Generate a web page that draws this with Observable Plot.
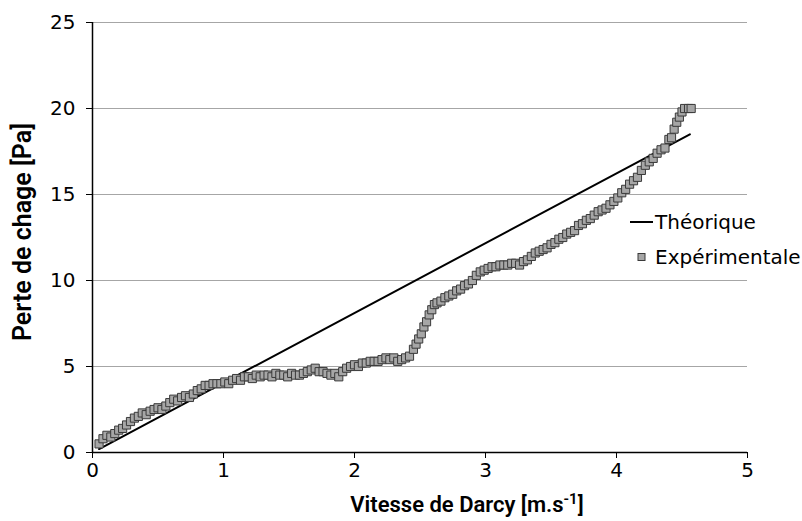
<!DOCTYPE html>
<html><head><meta charset="utf-8">
<script src="https://cdn.jsdelivr.net/npm/d3@7"></script>
<script src="https://cdn.jsdelivr.net/npm/@observablehq/plot@0.6"></script>
<style>body{margin:0;background:#fff;} #chart{position:relative;width:802px;height:521px;}</style>
</head><body><div id="chart"></div>
<script>
const xTicks = [0, 1, 2, 3, 4, 5];
const yTicks = [0, 5, 10, 15, 20, 25];
const seriesNames = ["Théorique", "Expérimentale"];
const theoX = [0.05, 4.56];
const theoY = [0.2, 18.5];
const expX = [0.05,0.08,0.11,0.14,0.17,0.2,0.23,0.26,0.29,0.32,0.35,0.38,0.41,0.44,0.47,0.5,0.53,0.56,0.59,0.62,0.65,0.68,0.71,0.74,0.77,0.8,0.83,0.86,0.89,0.92,0.95,0.98,
 1.01,1.04,1.07,1.1,1.13,1.16,1.19,1.22,1.25,1.28,1.31,1.34,1.37,1.4,1.43,1.46,1.49,1.52,1.55,1.58,1.61,1.64,1.67,1.7,1.73,1.76,1.79,1.82,1.85,1.88,1.91,1.94,1.97,2.0,2.03,2.06,2.09,2.12,2.15,2.18,2.21,2.24,2.27,2.3,2.33,2.36,2.39,2.42,
 2.45,2.47,2.49,2.51,2.53,2.55,2.57,2.59,2.61,2.63,2.66,2.69,2.72,2.75,2.78,2.81,2.84,2.87,2.9,2.93,2.96,2.99,3.02,3.05,3.08,
 3.11,3.14,3.17,3.2,3.23,3.26,3.29,3.32,3.35,3.38,3.41,3.44,3.47,3.5,3.53,3.56,3.59,3.62,3.65,3.68,3.71,3.74,3.77,3.8,3.83,3.86,3.89,3.92,3.95,3.98,
 4.01,4.04,4.07,4.1,4.13,4.16,4.19,4.22,4.25,4.28,4.31,4.34,4.37,4.4,4.42,4.44,4.46,4.48,4.5,4.52,4.55,4.57];
const expY = [0.5,0.8,1.0,0.9,1.1,1.3,1.4,1.6,1.8,2.0,2.1,2.3,2.2,2.4,2.5,2.6,2.5,2.7,2.9,3.1,3.0,3.2,3.3,3.2,3.4,3.6,3.7,3.9,3.9,4.0,4.0,4.0,
 4.1,4.0,4.2,4.3,4.2,4.4,4.4,4.3,4.5,4.4,4.5,4.5,4.4,4.6,4.5,4.5,4.4,4.6,4.5,4.5,4.6,4.7,4.8,4.9,4.7,4.7,4.6,4.5,4.6,4.4,4.7,4.9,5.0,5.1,5.0,5.2,5.2,5.3,5.3,5.3,5.4,5.5,5.4,5.5,5.3,5.4,5.5,5.6,
 6.0,6.3,6.6,6.9,7.3,7.6,8.0,8.3,8.6,8.7,8.8,9.0,9.1,9.2,9.4,9.5,9.7,9.8,10.0,10.3,10.5,10.6,10.7,10.8,10.8,
 10.9,10.9,10.9,11.0,11.0,10.9,11.1,11.2,11.4,11.6,11.7,11.8,11.9,12.1,12.2,12.4,12.5,12.7,12.8,12.9,13.2,13.3,13.5,13.6,13.8,14.0,14.1,14.2,14.4,14.6,
 14.8,15.1,15.3,15.6,15.8,16.0,16.4,16.7,16.9,17.1,17.4,17.6,17.7,18.2,18.3,18.8,19.2,19.5,19.8,20.0,20.0,20.0];

const theo = theoX.map((x, i) => ({x, y: theoY[i]}));
const exp = expX.map((x, i) => ({x, y: expY[i]}));

const W = 802, H = 521, mL = 92, mR = 55, mT = 22, mB = 69;
const tickFont = "DejaVu Sans, sans-serif";

const plot = Plot.plot({
  width: W, height: H,
  marginLeft: mL, marginRight: mR, marginTop: mT, marginBottom: mB,
  style: {fontFamily: tickFont, fontSize: "20px", color: "#000", background: "#fff", overflow: "visible"},
  x: {domain: [0, 5], ticks: xTicks, label: null},
  y: {domain: [0, 25], ticks: yTicks, label: null},
  marks: [
    Plot.gridY(yTicks.filter(d => d > 0), {stroke: "#a6a6a6", strokeOpacity: 1, strokeWidth: 1}),
    Plot.axisX({ticks: xTicks, tickSize: 6, tickPadding: 4, tickFormat: d => String(d), fontSize: 20}),
    Plot.axisY({ticks: yTicks, tickSize: 6, tickPadding: 11, tickFormat: d => String(d), fontSize: 20}),
    Plot.ruleY([0], {stroke: "#000", strokeWidth: 1.5}),
    Plot.ruleX([0], {stroke: "#000", strokeWidth: 1.5}),
    Plot.line(theo, {x: "x", y: "y", stroke: "#000", strokeWidth: 2}),
    Plot.dot(exp, {x: "x", y: "y", symbol: "square", r: 4.6, fill: "#a6a6a6", stroke: "#3a3a3a", strokeWidth: 1})
  ]
});
document.getElementById("chart").appendChild(plot);

const svg = d3.select(plot);
// axis titles
const titleFont = "Roboto, 'Open Sans', sans-serif";
const xt = svg.append("text").attr("x", 467).attr("y", 512).attr("text-anchor", "middle")
  .attr("font-family", titleFont).attr("font-weight", 600).attr("font-size", 22).attr("fill", "#000");
xt.append("tspan").text("Vitesse de Darcy [m.s");
xt.append("tspan").attr("dy", -8).attr("font-size", 15).text("-1");
xt.append("tspan").attr("dy", 8).text("]");

svg.append("text").attr("transform", "translate(31,232) rotate(-90)").attr("text-anchor", "middle")
  .attr("font-family", titleFont).attr("font-weight", 600).attr("font-size", 25).attr("fill", "#000")
  .text("Perte de chage [Pa]");

// legend
const lg = svg.append("g").attr("font-family", tickFont).attr("font-size", 20).attr("fill", "#000").attr("text-anchor", "start");
lg.append("line").attr("x1", 630).attr("x2", 653).attr("y1", 222).attr("y2", 222).attr("stroke", "#000").attr("stroke-width", 2);
lg.append("text").attr("x", 655).attr("y", 222).attr("dy", "0.36em").text(seriesNames[0]);
lg.append("rect").attr("x", 638).attr("y", 253.5).attr("width", 7).attr("height", 7).attr("fill", "#a6a6a6").attr("stroke", "#3a3a3a");
lg.append("text").attr("x", 655).attr("y", 257).attr("dy", "0.36em").text(seriesNames[1]);
</script>
</body></html>
